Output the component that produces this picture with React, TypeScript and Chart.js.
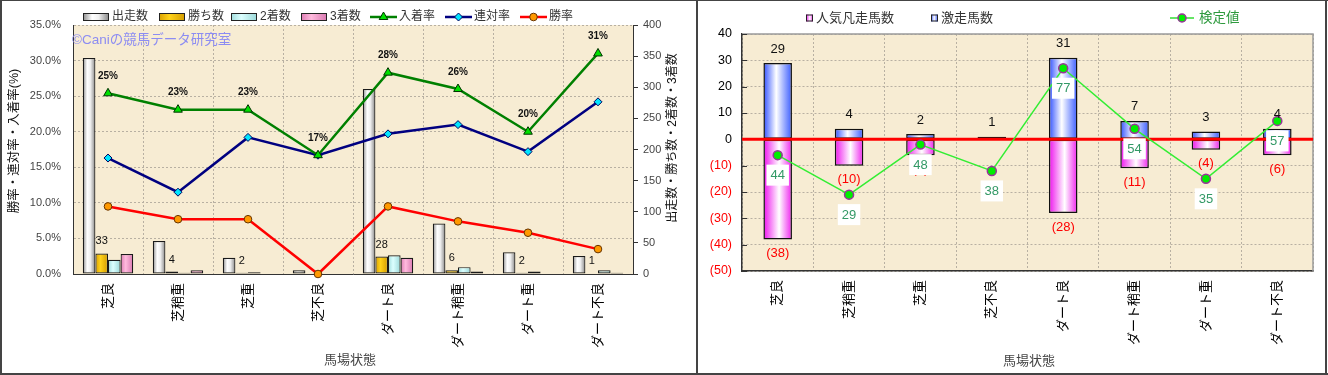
import React, { useEffect, useRef } from "react";
import { Chart, registerables } from "chart.js";

Chart.register(...registerables);

// ---------------- data ----------------
const categories = ["芝良", "芝稍重", "芝重", "芝不良", "ダート良", "ダート稍重", "ダート重", "ダート不良"];

// left chart (counts on right axis)
const starters = [347, 53, 26, 6, 297, 81, 35, 29];
const wins = [33, 4, 2, 0, 28, 6, 2, 1];
const seconds = [23, 2, 3, 1, 30, 11, 4, 6];
const thirds = [32, 6, 1, 0, 26, 4, 1, 2];
// left chart (rates in %, left axis)
const placeRate = [25.4, 23.1, 23.1, 16.7, 28.3, 26.0, 20.0, 31.0];
const quinellaRate = [16.3, 11.5, 19.2, 16.7, 19.7, 21.0, 17.2, 24.2];
const winRate = [9.5, 7.7, 7.7, 0, 9.5, 7.4, 5.8, 3.5];

// right chart
const surgeCounts = [29, 4, 2, 1, 31, 7, 3, 4];
const flopCounts = [-38, -10, -6, 0, -28, -11, -4, -6];
const testValues = [44, 29, 48, 38, 77, 54, 35, 57];

// ---------------- styles ----------------
const FONT = "'Liberation Sans', 'Noto Sans CJK JP', sans-serif";
const PLOT_BG = "#f7ecd3";
const GRID = "#b8b0a2";

type Stops = [number, string][];

const STOP_STARTERS: Stops = [[0, "#8a8a8a"], [0.35, "#ffffff"], [0.6, "#f0f0f0"], [1, "#858585"]];
const STOP_WINS: Stops = [[0, "#d9a000"], [0.4, "#ffd21a"], [1, "#d39c00"]];
const STOP_SECONDS: Stops = [[0, "#9fdcdc"], [0.4, "#dcffff"], [1, "#9ad8d8"]];
const STOP_THIRDS: Stops = [[0, "#dc7ab2"], [0.4, "#ffbadd"], [1, "#d878b0"]];
const STOP_PINK: Stops = [[0, "#ee11ee"], [0.55, "#ffffff"], [1, "#ee22ee"]];
const STOP_BLUE: Stops = [[0, "#3050ff"], [0.45, "#ffffff"], [1, "#3a5cff"]];

function barGradient(c: any, nBars: number, pos: number, catPct: number, stops: Stops, fallback: string) {
  const chart = c.chart;
  const xs = chart && chart.scales ? chart.scales.x : null;
  if (!xs || c.dataIndex === undefined || !xs.ticks || !xs.ticks.length) return fallback;
  const center = xs.getPixelForValue(c.dataIndex);
  const cat = xs.width / xs.ticks.length;
  const group = cat * catPct;
  const bw = group / nBars;
  const left = center - group / 2 + pos * bw;
  if (!isFinite(left) || !isFinite(bw) || bw <= 0) return fallback;
  const g = chart.ctx.createLinearGradient(left, 0, left + bw, 0);
  stops.forEach(([o, col]) => g.addColorStop(o, col));
  return g;
}

function gradRect(ctx: CanvasRenderingContext2D, x: number, y: number, w: number, h: number, stops: Stops) {
  const g = ctx.createLinearGradient(x, 0, x + w, 0);
  stops.forEach(([o, col]) => g.addColorStop(o, col));
  ctx.fillStyle = g;
  ctx.fillRect(x, y, w, h);
  ctx.strokeStyle = "#222";
  ctx.lineWidth = 1;
  ctx.strokeRect(x + 0.5, y + 0.5, w - 1, h - 1);
}

function marker(ctx: CanvasRenderingContext2D, style: string, x: number, y: number, r: number, fill: string, stroke: string, bw: number) {
  ctx.beginPath();
  if (style === "triangle") {
    for (let k = 0; k < 3; k++) {
      const a = (k * 2 * Math.PI) / 3;
      const px = x + Math.sin(a) * r;
      const py = y - Math.cos(a) * r;
      if (k === 0) ctx.moveTo(px, py);
      else ctx.lineTo(px, py);
    }
    ctx.closePath();
  } else if (style === "rectRot") {
    ctx.moveTo(x - r, y);
    ctx.lineTo(x, y - r);
    ctx.lineTo(x + r, y);
    ctx.lineTo(x, y + r);
    ctx.closePath();
  } else {
    ctx.arc(x, y, r, 0, Math.PI * 2);
  }
  ctx.fillStyle = fill;
  ctx.fill();
  ctx.lineWidth = bw;
  ctx.strokeStyle = stroke;
  ctx.stroke();
}

function verticalText(ctx: CanvasRenderingContext2D, text: string, x: number, y: number, font: string, color: string) {
  ctx.save();
  ctx.translate(x, y);
  ctx.rotate(-Math.PI / 2);
  ctx.font = font;
  ctx.fillStyle = color;
  ctx.textAlign = "center";
  ctx.textBaseline = "middle";
  ctx.fillText(text, 0, 0);
  ctx.restore();
}

// ---------------- left chart ----------------
const leftDeco = {
  id: "leftDeco",
  beforeDraw(chart: any) {
    const { ctx, chartArea: a } = chart;
    ctx.save();
    ctx.fillStyle = PLOT_BG;
    ctx.fillRect(a.left, a.top, a.width, a.height);
    ctx.restore();
  },
  beforeDatasetsDraw(chart: any) {
    const ctx = chart.ctx;
    ctx.save();
    ctx.font = `13.5px ${FONT}`;
    ctx.fillStyle = "#8c8cf2";
    ctx.textAlign = "left";
    ctx.textBaseline = "middle";
    ctx.fillText("©Caniの競馬データ研究室", 72, 40);
    ctx.restore();
  },
  afterDatasetDraw(chart: any, args: any) {
    if (args.index !== 1) return;
    const ctx = chart.ctx;
    const m = chart.getDatasetMeta(1);
    ctx.save();
    ctx.font = `11px ${FONT}`;
    ctx.fillStyle = "#111";
    ctx.textAlign = "center";
    ctx.textBaseline = "middle";
    m.data.forEach((b: any, i: number) => {
      if (wins[i] > 0) ctx.fillText(String(wins[i]), b.x, b.y - 12);
    });
    ctx.restore();
  },
  afterDatasetsDraw(chart: any) {
    const ctx = chart.ctx;
    const m = chart.getDatasetMeta(4);
    ctx.save();
    ctx.font = `bold 10px ${FONT}`;
    ctx.fillStyle = "#111";
    ctx.textAlign = "center";
    ctx.textBaseline = "middle";
    m.data.forEach((p: any, i: number) => {
      ctx.fillText(Math.round(placeRate[i]) + "%", p.x, p.y - 17);
    });
    ctx.restore();
  },
  afterDraw(chart: any) {
    const ctx = chart.ctx;
    ctx.save();
    // legend
    const ly = 17;
    ctx.font = `12px ${FONT}`;
    ctx.textAlign = "left";
    ctx.textBaseline = "middle";
    const bars: [number, string, Stops][] = [
      [83, "出走数", STOP_STARTERS],
      [159, "勝ち数", STOP_WINS],
      [231, "2着数", STOP_SECONDS],
      [301, "3着数", STOP_THIRDS],
    ];
    bars.forEach(([x, t, s]) => {
      gradRect(ctx, x, ly - 4, 26, 8, s);
      ctx.fillStyle = "#333";
      ctx.fillText(t, x + 29, ly);
    });
    const lines: [number, string, string, string, string, string, number][] = [
      [370, "入着率", "#008000", "triangle", "#00e000", "#003300", 5],
      [445, "連対率", "#000080", "rectRot", "#00e5ff", "#000060", 4],
      [520, "勝率", "#ff0000", "circle", "#ff9900", "#663300", 3.8],
    ];
    lines.forEach(([x, t, col, st, fill, stroke, r]) => {
      ctx.beginPath();
      ctx.moveTo(x, ly);
      ctx.lineTo(x + 27, ly);
      ctx.strokeStyle = col;
      ctx.lineWidth = 2.5;
      ctx.stroke();
      marker(ctx, st, x + 13.5, ly, r, fill, stroke, 1);
      ctx.fillStyle = "#333";
      ctx.fillText(t, x + 29, ly);
    });
    // axis titles
    verticalText(ctx, "勝率・連対率・入着率(%)", 15, 141, `12.5px ${FONT}`, "#111");
    verticalText(ctx, "出走数・勝ち数・2着数・3着数", 673, 138, `12px ${FONT}`, "#111");
    ctx.font = `13px ${FONT}`;
    ctx.fillStyle = "#444";
    ctx.textAlign = "center";
    ctx.fillText("馬場状態", 350, 360);
    ctx.restore();
  },
};

function LeftChart() {
  const ref = useRef<HTMLCanvasElement>(null);
  useEffect(() => {
    if (!ref.current) return;
    const barDs = (label: string, data: number[], pos: number, stops: Stops, solid: string) => ({
      type: "bar" as const,
      label,
      data,
      yAxisID: "y1",
      order: 1,
      categoryPercentage: 0.72,
      barPercentage: 1,
      borderColor: "#1a1a1a",
      borderWidth: 1.2,
      borderSkipped: false,
      backgroundColor: (c: any) => barGradient(c, 4, pos, 0.72, stops, solid),
    });
    const lineDs = (label: string, data: number[], color: string, style: string, r: number, fill: string, stroke: string) => ({
      type: "line" as const,
      label,
      data,
      yAxisID: "y",
      order: 0,
      clip: false,
      borderColor: color,
      borderWidth: 2.5,
      tension: 0,
      pointStyle: style,
      pointRadius: r,
      pointBackgroundColor: fill,
      pointBorderColor: stroke,
      pointBorderWidth: 1,
    });
    const chart = new Chart(ref.current, {
      type: "bar",
      data: {
        labels: categories,
        datasets: [
          barDs("出走数", starters, 0, STOP_STARTERS, "#dddddd"),
          barDs("勝ち数", wins, 1, STOP_WINS, "#f0c000"),
          barDs("2着数", seconds, 2, STOP_SECONDS, "#c0f0f0"),
          barDs("3着数", thirds, 3, STOP_THIRDS, "#f0a0c8"),
          lineDs("入着率", placeRate, "#008000", "triangle", 5, "#00e000", "#003300"),
          lineDs("連対率", quinellaRate, "#000080", "rectRot", 4, "#00e5ff", "#000060"),
          lineDs("勝率", winRate, "#ff0000", "circle", 3.8, "#ff9900", "#663300"),
        ] as any,
      },
      options: {
        responsive: false,
        animation: false,
        layout: { padding: { top: 25, left: 0, right: 0, bottom: 0 } },
        plugins: { legend: { display: false }, tooltip: { enabled: false } },
        scales: {
          x: {
            offset: true,
            grid: { offset: true, color: GRID, drawTicks: false },
            border: { color: "#333", width: 1, dash: [2, 2] },
            ticks: { autoSkip: false, maxRotation: 90, minRotation: 90, padding: 9, color: "#000", font: { family: FONT, size: 13 } },
            afterFit: (s: any) => { s.height = 101; },
          },
          y: {
            position: "left",
            min: 0,
            max: 35,
            ticks: { stepSize: 5, padding: 12, color: "#444", font: { family: FONT, size: 11 }, callback: (v: any) => Number(v).toFixed(1) + "%" },
            grid: { color: GRID, drawTicks: false },
            border: { color: "#333", width: 1, dash: [2, 2] },
            afterFit: (s: any) => { s.width = 73; },
          },
          y1: {
            position: "right",
            min: 0,
            max: 400,
            ticks: { stepSize: 50, padding: 5, color: "#444", font: { family: FONT, size: 11 } },
            grid: { drawOnChartArea: false, drawTicks: true, tickLength: 5, tickColor: "#333" },
            border: { color: "#333", width: 1 },
            afterFit: (s: any) => { s.width = 63; },
          },
        },
      } as any,
      plugins: [leftDeco],
    });
    return () => chart.destroy();
  }, []);
  return <canvas ref={ref} width={696} height={375} style={{ position: "absolute", left: 0, top: 0 }} />;
}

// ---------------- right chart ----------------
const rightDeco = {
  id: "rightDeco",
  beforeDraw(chart: any) {
    const { ctx, chartArea: a } = chart;
    ctx.save();
    ctx.fillStyle = PLOT_BG;
    ctx.fillRect(a.left, a.top, a.width, a.height);
    ctx.restore();
  },
  beforeDatasetsDraw(chart: any) {
    const { ctx, chartArea: a } = chart;
    ctx.save();
    ctx.strokeStyle = "#9a9a9a";
    ctx.lineWidth = 1.5;
    ctx.beginPath();
    ctx.moveTo(a.left, a.top);
    ctx.lineTo(a.right, a.top);
    ctx.lineTo(a.right, a.bottom);
    ctx.stroke();
    // inward tick marks on the value axis
    const ys = chart.scales.y;
    ctx.strokeStyle = "#333";
    ctx.lineWidth = 1;
    ys.ticks.forEach((t: any) => {
      const y = Math.round(ys.getPixelForValue(t.value)) + 0.5;
      ctx.beginPath();
      ctx.moveTo(a.left, y);
      ctx.lineTo(a.left + 5, y);
      ctx.stroke();
    });
    ctx.restore();
  },
  afterDatasetDraw(chart: any, args: any) {
    if (args.index !== 0) return;
    const { ctx, chartArea: a } = chart;
    const y0 = chart.scales.y.getPixelForValue(0);
    ctx.save();
    ctx.strokeStyle = "#ff0000";
    ctx.lineWidth = 3;
    ctx.beginPath();
    ctx.moveTo(a.left, y0);
    ctx.lineTo(a.right, y0);
    ctx.stroke();
    ctx.restore();
  },
  afterDatasetsDraw(chart: any) {
    const ctx = chart.ctx;
    ctx.save();
    ctx.font = `13px ${FONT}`;
    ctx.textAlign = "center";
    ctx.textBaseline = "middle";
    const blue = chart.getDatasetMeta(1);
    blue.data.forEach((b: any, i: number) => {
      if (surgeCounts[i] !== 0) {
        ctx.fillStyle = "#111";
        ctx.fillText(String(surgeCounts[i]), b.x, b.y - 14);
      }
    });
    const pink = chart.getDatasetMeta(0);
    pink.data.forEach((b: any, i: number) => {
      if (flopCounts[i] !== 0) {
        ctx.fillStyle = "#ff0000";
        ctx.fillText(`(${-flopCounts[i]})`, b.x, b.y + 14);
      }
    });
    const line = chart.getDatasetMeta(2);
    line.data.forEach((p: any, i: number) => {
      const t = String(testValues[i]);
      const w = ctx.measureText(t).width + 8;
      const h = 21;
      const cy = p.y + 20;
      ctx.fillStyle = "#ffffff";
      ctx.fillRect(p.x - w / 2, cy - h / 2, w, h);
      ctx.fillStyle = "#339966";
      ctx.fillText(t, p.x, cy + 0.5);
    });
    ctx.restore();
  },
  afterDraw(chart: any) {
    const ctx = chart.ctx;
    ctx.save();
    const ly = 18;
    ctx.font = `13px ${FONT}`;
    ctx.textAlign = "left";
    ctx.textBaseline = "middle";
    gradRect(ctx, 108, ly - 3.5, 7, 7, STOP_PINK);
    ctx.fillStyle = "#333";
    ctx.fillText("人気凡走馬数", 118, ly);
    gradRect(ctx, 233, ly - 3.5, 7, 7, STOP_BLUE);
    ctx.fillStyle = "#333";
    ctx.fillText("激走馬数", 243, ly);
    ctx.beginPath();
    ctx.moveTo(472, ly);
    ctx.lineTo(496, ly);
    ctx.strokeStyle = "#33dd33";
    ctx.lineWidth = 1.5;
    ctx.stroke();
    marker(ctx, "circle", 484, ly, 4, "#00ee00", "#993399", 1.5);
    ctx.font = `13.5px ${FONT}`;
    ctx.fillStyle = "#2e9a3e";
    ctx.fillText("検定値", 501, ly);
    ctx.font = `13px ${FONT}`;
    ctx.fillStyle = "#444";
    ctx.textAlign = "center";
    ctx.fillText("馬場状態", 331, 361);
    ctx.restore();
  },
};

function RightChart() {
  const ref = useRef<HTMLCanvasElement>(null);
  useEffect(() => {
    if (!ref.current) return;
    const chart = new Chart(ref.current, {
      type: "bar",
      data: {
        labels: categories,
        datasets: [
          {
            type: "bar",
            label: "人気凡走馬数",
            data: flopCounts,
            yAxisID: "y",
            order: 1,
            categoryPercentage: 0.4,
            barPercentage: 1,
            borderColor: "#111",
            borderWidth: 1.5,
            borderSkipped: false,
            backgroundColor: (c: any) => barGradient(c, 1, 0, 0.4, STOP_PINK, "#ff88ff"),
          },
          {
            type: "bar",
            label: "激走馬数",
            data: surgeCounts,
            yAxisID: "y",
            order: 1,
            categoryPercentage: 0.4,
            barPercentage: 1,
            borderColor: "#111",
            borderWidth: 1.5,
            borderSkipped: false,
            backgroundColor: (c: any) => barGradient(c, 1, 0, 0.4, STOP_BLUE, "#8899ff"),
          },
          {
            type: "line",
            label: "検定値",
            data: testValues,
            yAxisID: "y2",
            order: 0,
            clip: false,
            borderColor: "#33ee33",
            borderWidth: 1.5,
            tension: 0,
            pointStyle: "circle",
            pointRadius: 4.5,
            pointBackgroundColor: "#00ee00",
            pointBorderColor: "#993399",
            pointBorderWidth: 1.5,
          },
        ] as any,
      },
      options: {
        responsive: false,
        animation: false,
        layout: { padding: { top: 34, left: 0, right: 15, bottom: 0 } },
        plugins: { legend: { display: false }, tooltip: { enabled: false } },
        scales: {
          x: {
            stacked: true,
            offset: true,
            grid: { offset: true, color: GRID, drawTicks: false },
            border: { color: "#333", width: 1.5, dash: [2, 2] },
            ticks: { autoSkip: false, maxRotation: 90, minRotation: 90, padding: 9, color: "#000", font: { family: FONT, size: 13 } },
            afterFit: (s: any) => { s.height = 104; },
          },
          y: {
            stacked: true,
            position: "left",
            min: -50,
            max: 40,
            ticks: {
              stepSize: 10,
              padding: 10,
              font: { family: FONT, size: 12.5 },
              color: (c: any) => (c.tick && c.tick.value < 0 ? "#ff0000" : "#000"),
              callback: (v: any) => (Number(v) < 0 ? `(${-Number(v)})` : String(v)),
            },
            grid: { color: GRID, drawTicks: false },
            border: { color: "#333", width: 1.5, dash: [2, 2] },
            afterFit: (s: any) => { s.width = 44; },
          },
          y2: { display: false, min: 0, max: 90 },
        },
      } as any,
      plugins: [rightDeco],
    });
    return () => chart.destroy();
  }, []);
  return <canvas ref={ref} width={630} height={375} style={{ position: "absolute", left: 698, top: 0 }} />;
}

export default function App() {
  useEffect(() => {
    document.body.style.margin = "0";
  }, []);
  const line = (s: React.CSSProperties) => <div style={{ position: "absolute", background: "#444", ...s }} />;
  return (
    <div style={{ position: "relative", width: 1328, height: 375, background: "#fff", overflow: "hidden" }}>
      <LeftChart />
      <RightChart />
      {line({ left: 0, top: 0, width: 1328, height: 1 })}
      {line({ left: 0, top: 373, width: 1328, height: 2 })}
      {line({ left: 0, top: 0, width: 2, height: 375 })}
      {line({ left: 696, top: 0, width: 2, height: 375 })}
      {line({ left: 1325, top: 0, width: 2, height: 375 })}
    </div>
  );
}
